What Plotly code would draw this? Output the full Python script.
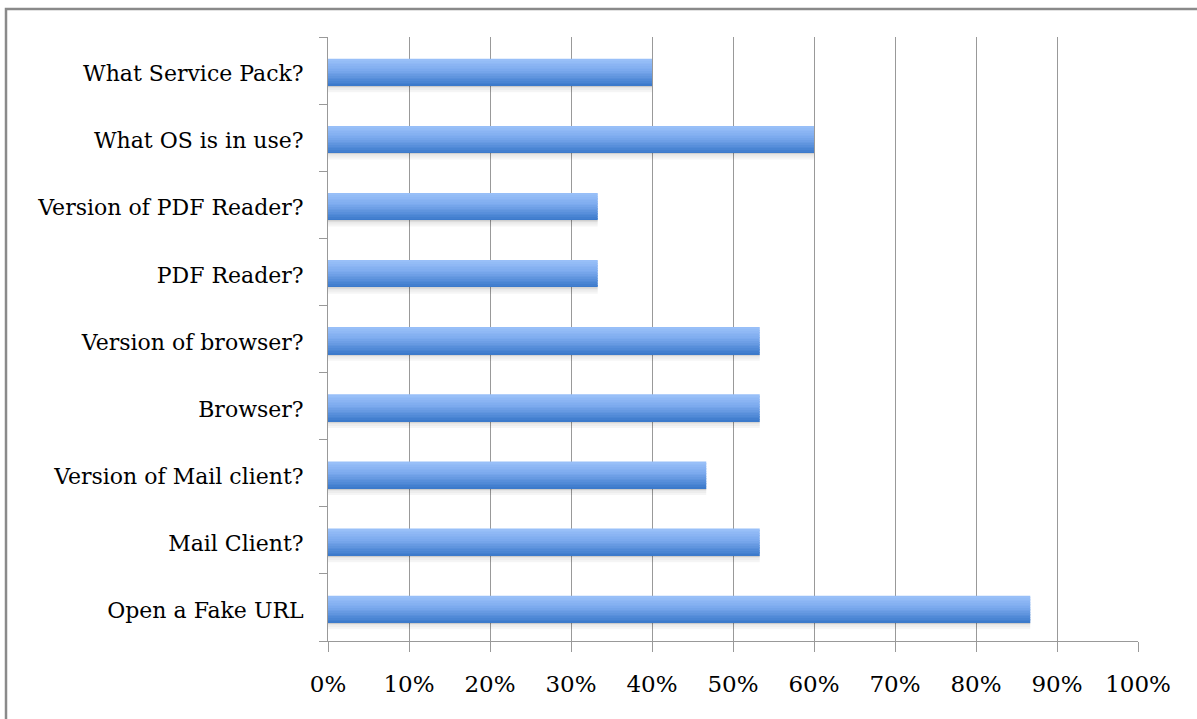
import plotly.graph_objects as go

categories = ["Open a Fake URL", "Mail Client?", "Version of Mail client?", "Browser?",
              "Version of browser?", "PDF Reader?", "Version of PDF Reader?",
              "What OS is in use?", "What Service Pack?"]
values = [0.867, 0.533, 0.467, 0.533, 0.533, 0.333, 0.333, 0.60, 0.40]
x_ticks = [i / 10 for i in range(11)]
x_tick_labels = [f"{i*10}%" for i in range(11)]

W, H = 1197, 719
L, R, T, B = 328, 1138, 37, 641

def interp(c1, c2, t):
    return tuple(int(round(a + (b - a) * t)) for a, b in zip(c1, c2))

dark = (0x3C, 0x7A, 0xCB)
mid = (0x7C, 0xAA, 0xEE)
light = (0x98, 0xBF, 0xF8)

fig = go.Figure()

bar_w = 0.40
shift = -0.025
# soft shadow below bars
for off, a in [(-bar_w/2 - 0.10, 0.04), (-bar_w/2 - 0.07, 0.07), (-bar_w/2 - 0.04, 0.10), (-bar_w/2 - 0.02, 0.14)]:
    fig.add_trace(go.Bar(y=categories, x=values, orientation="h", base=0,
                         offset=off + shift, width=0.03,
                         marker=dict(color=f"rgba(0,0,0,{a})", line=dict(width=0)),
                         hoverinfo="skip", showlegend=False))

N = 16
sw = bar_w / N
for i in range(N):
    t = i / (N - 1)  # 0 bottom -> 1 top
    if t < 0.6:
        c = interp(dark, mid, t / 0.6)
    else:
        c = interp(mid, light, (t - 0.6) / 0.4)
    off = -bar_w / 2 + i * sw + shift
    w = sw * 1.15 if i < N - 1 else sw
    fig.add_trace(go.Bar(y=categories, x=values, orientation="h", base=0,
                         offset=off, width=w,
                         marker=dict(color="rgb(%d,%d,%d)" % c, line=dict(width=0)),
                         hoverinfo="skip", showlegend=False))

def px2paper_x(px):
    return (px - L) / (R - L)

def px2paper_y(py):
    return (B - py) / (B - T)

fig.add_shape(type="rect", xref="paper", yref="paper",
              x0=px2paper_x(6), x1=px2paper_x(1230), y0=px2paper_y(9), y1=px2paper_y(760),
              line=dict(color="#8a8a8a", width=2.5), fillcolor="rgba(0,0,0,0)", layer="below")

font_family = "DejaVu Serif"
grid = "#999999"
fig.update_layout(
    width=W, height=H,
    margin=dict(l=L, r=W - R, t=T, b=H - B),
    paper_bgcolor="white", plot_bgcolor="white",
    barmode="overlay",
    font=dict(family=font_family, size=22, color="black"),
    xaxis=dict(range=[0, 1], tickvals=x_ticks, ticktext=x_tick_labels,
               showgrid=True, gridcolor=grid, gridwidth=1,
               showline=True, linecolor=grid, linewidth=1,
               ticks="outside", ticklen=10, tickcolor=grid,
               tickfont=dict(size=23),
               zeroline=False, ticklabelstandoff=12, fixedrange=True),
    yaxis=dict(categoryorder="array", categoryarray=categories,
               showline=True, linecolor=grid, linewidth=1,
               ticks="outside", ticklen=8, tickcolor=grid,
               tickson="boundaries", showgrid=False, zeroline=False,
               ticklabelstandoff=19, ticklabelshift=3, fixedrange=True),
)

fig.write_html("out.html")
